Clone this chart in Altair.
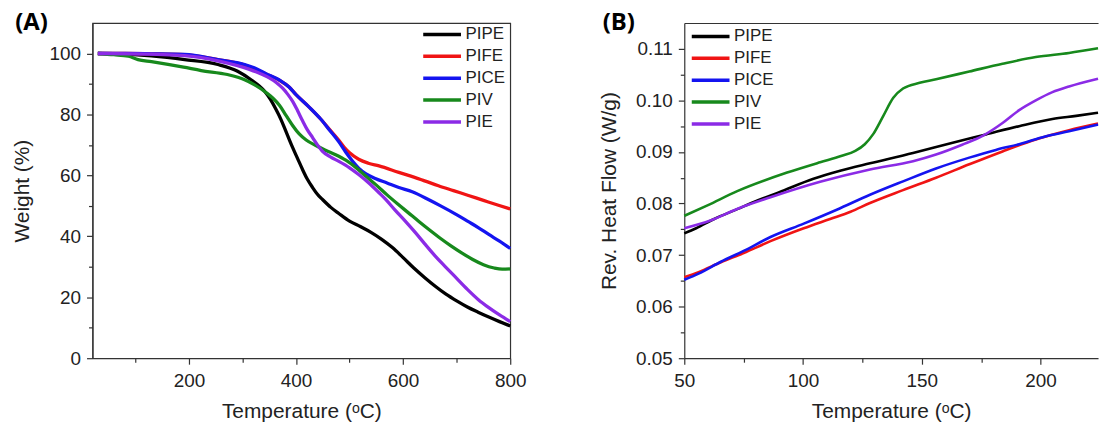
import altair as alt
import pandas as pd

FONT = "Liberation Sans, Arial, sans-serif"
series = ["PIPE", "PIFE", "PICE", "PIV", "PIE"]
colors = ["#000000", "#f01414", "#1414f0", "#17891c", "#8b2be6"]

# ---------- (A) TGA: temperature (C) / weight (%) ----------
pipe_a_t = [30, 80, 130, 192, 254, 291, 316, 341, 352, 363, 372, 381, 388, 394, 403, 412, 421, 431, 440, 450, 465, 480, 500, 520, 540, 560, 580, 600, 620, 640, 660, 680, 700, 720, 740, 760, 780, 800]
pipe_a_w = [100, 99.8, 99.2, 98, 96.4, 94.2, 91.4, 87.7, 85, 81.5, 78.3, 74.5, 71.5, 69, 65.5, 62, 58.8, 56, 53.8, 52, 49.5, 47.5, 45, 43.2, 41.3, 39, 36.3, 33, 29.6, 26.5, 23.6, 21, 18.8, 16.8, 15.1, 13.5, 12, 10.6]

pife_a_t = [30, 80, 130, 192, 254, 304, 322, 344, 369, 387, 400, 424, 446, 462, 480, 490, 500, 517, 535, 555, 592, 610, 640, 666, 694, 722, 750, 778, 800]
pife_a_w = [100, 100, 99.9, 99.6, 98, 96.2, 95, 93.3, 91.2, 89, 86.5, 82.5, 78.5, 75.2, 71.5, 69.2, 67.4, 65.3, 64, 63.1, 61, 60, 58.2, 56.6, 55, 53.4, 51.8, 50.2, 49]

pice_a_t = [30, 80, 130, 192, 254, 304, 322, 344, 369, 387, 400, 424, 446, 462, 480, 493, 505, 517, 530, 548, 570, 592, 617, 648, 670, 698, 722, 741, 760, 780, 800]
pice_a_w = [100, 100, 99.9, 99.7, 98, 96.4, 95.3, 93.4, 91.3, 89, 86.5, 82.5, 78.5, 75, 71, 67.6, 64.8, 62.4, 60.6, 59, 57.5, 56, 54.6, 52, 50, 47.3, 44.8, 42.8, 40.6, 38.4, 36]

piv_a_t = [30, 60, 87, 105, 130, 161, 190, 223, 272, 304, 322, 344, 357, 369, 381, 394, 406, 419, 437, 456, 474, 493, 511, 530, 550, 570, 590, 610, 630, 650, 670, 690, 710, 730, 750, 770, 785, 800]
piv_a_w = [100, 99.6, 99.1, 98, 97.3, 96.4, 95.5, 94.4, 93.1, 91.4, 89.8, 87.2, 85.3, 83, 79.8, 76.3, 73.6, 71.6, 69.8, 68.2, 66.8, 65, 62.7, 59.8, 56.8, 53.6, 50.6, 47.7, 44.8, 42, 39.3, 36.8, 34.5, 32.4, 30.7, 29.6, 29.2, 29.3]

pie_a_t = [30, 100, 192, 254, 313, 335, 350, 363, 375, 385, 394, 403, 412, 421, 431, 440, 449, 465, 480, 500, 517, 536, 555, 567, 585, 604, 623, 640, 660, 679, 700, 720, 740, 760, 780, 800]
pie_a_w = [100, 99.9, 99.3, 97.6, 94.8, 93.3, 92, 90.5, 88.6, 86.5, 84.2, 81.2, 78, 75, 72.4, 70, 68, 66, 64.6, 62.5, 60.3, 57.5, 54.3, 52.2, 48.6, 45, 41.2, 37.6, 33.5, 30, 26.2, 22.6, 19.3, 16.6, 14.2, 12]

# ---------- (B) reversing heat flow ----------
pipe_b_t = [50, 55, 62.6, 72.3, 79.3, 90, 104.4, 116, 128.2, 146.3, 163, 177, 191, 205, 215, 224.2]
pipe_b_v = [0.0742, 0.0752, 0.0770, 0.0789, 0.0803, 0.0822, 0.0848, 0.0864, 0.0878, 0.0898, 0.0918, 0.0934, 0.0950, 0.0964, 0.0970, 0.0976]

pife_b_t = [50, 56, 65.4, 75, 86.3, 100.3, 111.4, 120, 128.2, 142.1, 156, 170, 184, 198, 212, 224.2]
pife_b_v = [0.0657, 0.0667, 0.0686, 0.0704, 0.0727, 0.0752, 0.0770, 0.0784, 0.0801, 0.0826, 0.0850, 0.0876, 0.0901, 0.0924, 0.0942, 0.0955]

pice_b_t = [50, 56, 65.4, 75, 86.3, 100.3, 114.2, 128.2, 142.1, 156, 170, 181.2, 191, 202, 212, 224.2]
pice_b_v = [0.0652, 0.0664, 0.0687, 0.0708, 0.0735, 0.0761, 0.0788, 0.0817, 0.0843, 0.0868, 0.0889, 0.0904, 0.0915, 0.0930, 0.0940, 0.0953]

piv_b_t = [50, 60, 72.3, 93.3, 107.2, 116, 122, 126, 129.6, 133.8, 138, 142.1, 149.1, 156, 170, 184, 198, 212, 224.2]
piv_b_v = [0.0776, 0.0797, 0.0824, 0.0860, 0.0880, 0.0892, 0.0902, 0.0915, 0.0935, 0.0970, 0.1005, 0.1023, 0.1034, 0.1041, 0.1056, 0.1071, 0.1084, 0.1092, 0.1101]

pie_b_t = [50, 61, 72, 86.3, 107.2, 128.2, 146.3, 156, 167, 175.6, 184, 191, 198, 205, 212, 224.2]
pie_b_v = [0.0752, 0.0767, 0.0789, 0.0812, 0.0842, 0.0866, 0.0882, 0.0895, 0.0914, 0.0931, 0.0956, 0.0981, 0.1000, 0.1016, 0.1027, 0.1042]

# axis ticks
a_x_major = [200, 400, 600, 800]
a_x_minor = [100, 300, 500, 700]
a_y_major = [0, 20, 40, 60, 80, 100]
a_y_minor = [10, 30, 50, 70, 90]
b_x_major = [50, 100, 150, 200]
b_x_minor = [75, 125, 175]
b_y_major = [0.05, 0.06, 0.07, 0.08, 0.09, 0.10, 0.11]
b_y_minor = [0.055, 0.065, 0.075, 0.085, 0.095, 0.105]


def build(pairs, xname, yname):
    rows = []
    for name, ts, vs in pairs:
        for t, v in zip(ts, vs):
            rows.append({xname: t, yname: v, "S": name})
    return pd.DataFrame(rows)


df_a = build([("PIPE", pipe_a_t, pipe_a_w), ("PIFE", pife_a_t, pife_a_w),
              ("PICE", pice_a_t, pice_a_w), ("PIV", piv_a_t, piv_a_w),
              ("PIE", pie_a_t, pie_a_w)], "Ta", "W")
df_b = build([("PIPE", pipe_b_t, pipe_b_v), ("PIFE", pife_b_t, pife_b_v),
              ("PICE", pice_b_t, pice_b_v), ("PIV", piv_b_t, piv_b_v),
              ("PIE", pie_b_t, pie_b_v)], "Tb", "V")

color_scale = alt.Scale(domain=series, range=colors)

ax_common = dict(labelFont=FONT, labelFontSize=19, labelColor="#222", labelFlush=False,
                 titleFont=FONT, titleFontSize=21, titleColor="#222",
                 titleFontWeight="normal", domainColor="#333", tickColor="#333",
                 domainWidth=1.2, tickWidth=1.2, grid=False)

# long horizontal stroke drawn as a custom legend symbol (keeps rows compact)
LEG_SYMBOL = "M-1.65,0H1.65"


def legend(x, y):
    return alt.Legend(title=None, orient="none", legendX=x, legendY=y,
                      symbolType=LEG_SYMBOL, symbolSize=529, symbolStrokeWidth=3.5,
                      symbolFillColor="transparent",
                      labelFont=FONT, labelFontSize=17, labelColor="#222",
                      labelOffset=10, rowPadding=0, padding=0)


def minor_axis(values, orient):
    return alt.Axis(values=values, labels=False, title=None, domain=False,
                    tickSize=4, tickColor="#333", tickWidth=1.2, orient=orient, grid=False)


def panel_title(text, offset):
    return alt.TitleParams(text, anchor="start", frame="bounds", font="Open Sans",
                           fontSize=24, fontWeight="bold", color="black",
                           offset=offset, dx=4)


# ----- panel A -----
xa_scale = alt.Scale(domain=[20, 800], nice=False, zero=False)
ya_scale = alt.Scale(domain=[0, 110], nice=False, zero=False)

a_lines = alt.Chart(df_a).mark_line(strokeWidth=3.3, interpolate="monotone").encode(
    x=alt.X("Ta:Q", scale=xa_scale,
            axis=alt.Axis(values=a_x_major, title="Temperature (ᵒC)", tickSize=6,
                          labelPadding=7, titlePadding=11, **ax_common)),
    y=alt.Y("W:Q", scale=ya_scale,
            axis=alt.Axis(values=a_y_major, title="Weight (%)", tickSize=6,
                          labelPadding=6, titlePadding=17, **ax_common)),
    color=alt.Color("S:N", scale=color_scale, sort=series, legend=legend(338, -2)),
)
a_minor = alt.Chart(df_a).mark_point(opacity=0).encode(
    x=alt.X("Ta:Q", scale=xa_scale, axis=minor_axis(a_x_minor, "bottom")),
    y=alt.Y("W:Q", scale=ya_scale, axis=minor_axis(a_y_minor, "left")),
)
panel_a = alt.layer(a_lines, a_minor).resolve_axis(x="independent", y="independent").properties(
    width=420, height=337,
    title=panel_title("(A)", -14),
    view=alt.ViewBackground(stroke="#333", strokeWidth=1.2),
)

# ----- panel B -----
xb_scale = alt.Scale(domain=[50, 224.2], nice=False, zero=False)
yb_scale = alt.Scale(domain=[0.05, 0.115], nice=False, zero=False)

b_lines = alt.Chart(df_b).mark_line(strokeWidth=2.6, interpolate="monotone").encode(
    x=alt.X("Tb:Q", scale=xb_scale,
            axis=alt.Axis(values=b_x_major, title="Temperature (ᵒC)", tickSize=6,
                          labelPadding=7, titlePadding=11, **ax_common)),
    y=alt.Y("V:Q", scale=yb_scale,
            axis=alt.Axis(values=b_y_major, format=".2f", title="Rev. Heat Flow (W/g)",
                          tickSize=6, labelPadding=6, titlePadding=16, **ax_common)),
    color=alt.Color("S:N", scale=color_scale, sort=series, legend=legend(13, 0)),
)
b_minor = alt.Chart(df_b).mark_point(opacity=0).encode(
    x=alt.X("Tb:Q", scale=xb_scale, axis=minor_axis(b_x_minor, "bottom")),
    y=alt.Y("V:Q", scale=yb_scale, axis=minor_axis(b_y_minor, "left")),
)
b_top = alt.Chart(df_b).mark_point(opacity=0).encode(
    x=alt.X("Tb:Q", scale=xb_scale,
            axis=alt.Axis(orient="top", labels=False, ticks=False, title=None, domain=True,
                          domainColor="#333", domainWidth=1.2, grid=False)),
    y=alt.Y("V:Q", scale=yb_scale, axis=None),
)
panel_b = alt.layer(b_lines, b_minor, b_top).resolve_axis(x="independent", y="independent").properties(
    width=416, height=337,
    title=panel_title("(B)", -12),
    view=alt.ViewBackground(strokeOpacity=0),
)

chart = alt.hconcat(panel_a, panel_b, spacing=175, bounds="flush").resolve_legend(
    color="independent"
).properties(
    padding={"left": 10, "top": 9, "right": 0, "bottom": 0},
    background="white",
)

chart.save("out.html", embed_options={"renderer": "svg", "actions": False})
